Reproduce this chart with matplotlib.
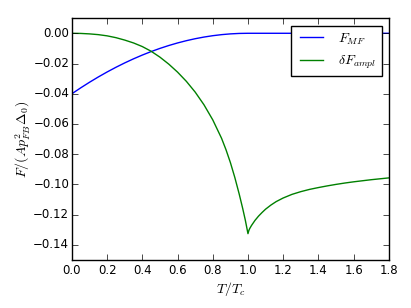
import matplotlib
matplotlib.use("Agg")
import matplotlib.pyplot as plt

# T/Tc samples and values
t_mf = [0.0, 0.05, 0.1, 0.15, 0.2, 0.25, 0.3, 0.35, 0.4, 0.45, 0.5, 0.55,
        0.6, 0.65, 0.7, 0.75, 0.8, 0.85, 0.9, 0.95, 1.0, 1.8]
f_mf = [-0.0400, -0.0361, -0.0324, -0.0289, -0.0256, -0.0225, -0.0196,
        -0.0169, -0.0144, -0.0121, -0.0100, -0.0081, -0.0064, -0.0049,
        -0.0036, -0.0025, -0.0016, -0.0009, -0.0004, -0.0001, 0.0, 0.0]

t_ampl = [0.0, 0.05, 0.1, 0.15, 0.2, 0.25, 0.3, 0.35, 0.4, 0.45, 0.5, 0.55,
          0.6, 0.65, 0.7, 0.75, 0.8, 0.85, 0.875, 0.9, 0.925, 0.95, 0.97,
          0.985, 1.0, 1.005, 1.01, 1.02, 1.03, 1.04, 1.06, 1.08, 1.1, 1.13,
          1.16, 1.2, 1.25, 1.3, 1.35, 1.4, 1.45, 1.5, 1.55, 1.6, 1.65, 1.7,
          1.75, 1.8]
f_ampl = [0.0, -0.0001, -0.0004, -0.0009, -0.0017, -0.0029, -0.0045,
          -0.0064, -0.0088, -0.0119, -0.0158, -0.0204, -0.0257, -0.0318,
          -0.0389, -0.0473, -0.0573, -0.0695, -0.0770, -0.0855, -0.0953,
          -0.1063, -0.1159, -0.1237, -0.1326, -0.1305, -0.1292, -0.1272,
          -0.1255, -0.1238, -0.1210, -0.1186, -0.1164, -0.1137, -0.1114,
          -0.1090, -0.1066, -0.1048, -0.1033, -0.1021, -0.1010, -0.1000,
          -0.0991, -0.0983, -0.0976, -0.0969, -0.0963, -0.0957]

plt.style.use('classic')
plt.rcParams.update({
    'font.size': 8.5,
    'figure.facecolor': 'white',
    'savefig.facecolor': 'white',
})

fig = plt.figure(figsize=(4.11, 3.08), dpi=100)
ax = fig.add_axes([0.175, 0.156, 0.771, 0.785])

ax.plot(t_mf, f_mf, color='b', lw=1, label=r'$F_{MF}$')
ax.plot(t_ampl, f_ampl, color='g', lw=1, label=r'$\delta F_{ampl}$')

ax.set_xlim(0, 1.8)
ax.set_ylim(-0.15, 0.01)
ax.set_xticks([0.0, 0.2, 0.4, 0.6, 0.8, 1.0, 1.2, 1.4, 1.6, 1.8])
ax.set_yticks([0.0, -0.02, -0.04, -0.06, -0.08, -0.10, -0.12, -0.14])
ax.set_yticklabels(['0.00', '\u22120.02', '\u22120.04', '\u22120.06', '\u22120.08',
                    '\u22120.10', '\u22120.12', '\u22120.14'])
ax.tick_params(axis='x', pad=3)
ax.tick_params(axis='y', pad=2)
ax.set_xlabel(r'$T/T_c$', fontsize=10, labelpad=2)
ax.set_ylabel(r'$F/(Ap_{FB}^2\Delta_0)$', fontsize=10, labelpad=1)
ax.legend(loc='upper right', bbox_to_anchor=(0.977, 0.969),
          borderaxespad=0, fontsize=10, handlelength=2.2)

fig.savefig('out.png', dpi=100)
